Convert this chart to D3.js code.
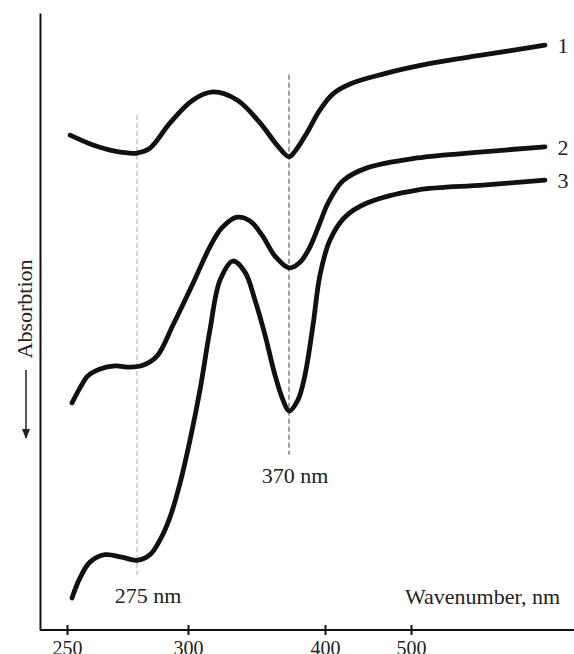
<!DOCTYPE html>
<html lang="en">
<head>
    <meta charset="UTF-8">
    <script src="https://d3js.org/d3.v7.min.js"></script>
    <title>Absorption spectra</title>
    <style>
        body {
            margin: 0;
            background: #fff;
        }
        svg {
            font-family: "Liberation Serif", "Times New Roman", serif;
        }
        .curve {
            fill: none;
            stroke: #111;
            stroke-width: 4.8;
            stroke-linecap: round;
            stroke-linejoin: round;
        }
        .label {
            font-size: 22px;
            fill: #222;
        }
    </style>
</head>
<body>
    <div id="chart"></div>

    <script>
        const width = 574;
        const height = 654;

        // wavelengths (nm) of the tick labels and the marked bands
        const tickValues = [250, 300, 400, 500];
        const markers = [275, 370];
        const markerTop = [16.5, 10.0];    // top of each dashed line (absorption units)
        const markerBottom = [91.1, 71.6];

        // traces: wavelength (nm) and absorption (arbitrary units, grows downward)
        const curve1 = [
            [251.1, 19.8], [259.3, 21.4], [267.1, 22.4], [275, 22.7], [281.4, 21.9], [291.2, 17.8],
            [303.5, 14.1], [317.3, 12.8], [334, 14.1], [349.9, 17.8], [361.7, 21.4], [370, 23.3],
            [375.8, 22.2], [385, 19.4], [395.8, 15.7], [409.3, 13.1], [429.1, 11.5], [467.4, 9.9],
            [525.6, 8.1], [583.7, 6.8], [655.8, 5.2]
        ];
        const curve2 = [
            [251.8, 63.2], [254.6, 60.8], [257.5, 58.8], [261.8, 57.7], [267.1, 57.2], [272.5, 57.4],
            [277.9, 57.1], [284.8, 55.6], [292.6, 50.6], [303.5, 43.8], [315.2, 37.9], [323.6, 34.8],
            [334, 33.1], [343, 33.7], [351.3, 36.0], [360.3, 39.4], [370, 41.3], [379.2, 40.4],
            [387.5, 37.9], [395.8, 34.0], [403.5, 30.8], [420.9, 27.2], [448.8, 25.1], [507, 23.5],
            [583.7, 22.5], [655.8, 21.7]
        ];
        const curve3 = [
            [251.8, 94.8], [254.6, 91.6], [258.2, 89.0], [263.6, 87.8], [269.6, 88.2], [275, 88.7],
            [281.4, 87.8], [286.3, 85.4], [291.2, 81.7], [296.1, 76.2], [301.4, 69.2], [308.3, 61.1],
            [315.2, 51.4], [322.2, 43.3], [331.2, 40.2], [339.5, 42.0], [346.4, 46.5], [353.4, 52.2],
            [360.3, 58.7], [365.8, 62.7], [370, 64.5], [377.5, 62.7], [383.3, 58.7], [390, 50.6],
            [395.8, 42.5], [405.8, 36.8], [423, 33.1], [448.8, 30.8], [507, 28.7], [583.7, 27.9],
            [655.8, 27.1]
        ];
        const curves = [curve1, curve2, curve3];
        const curveNames = ["1", "2", "3"];

        const svg = d3.select("#chart")
            .append("svg")
            .attr("width", width)
            .attr("height", height);

        // the printed axis is not linear in nm, so the scale is piecewise
        const x = d3.scaleLinear()
            .domain([250, 275, 300, 370, 400, 500])
            .range([67, 137, 188, 289, 325, 411]);

        const y = d3.scaleLinear()
            .domain([0, 100])
            .range([13, 630]);

        // y axis: a bare line
        svg.append("g")
            .attr("transform", "translate(40,0)")
            .call(d3.axisLeft(y).tickValues([]).tickSizeOuter(0))
            .select(".domain")
            .attr("stroke", "#111")
            .attr("stroke-width", 2);

        // x axis line across the whole width
        svg.append("line")
            .attr("x1", 40).attr("x2", width)
            .attr("y1", y(100)).attr("y2", y(100))
            .attr("stroke", "#111")
            .attr("stroke-width", 2);

        const xAxis = svg.append("g")
            .attr("transform", `translate(0,${y(100)})`)
            .call(d3.axisBottom(x).tickValues(tickValues).tickSize(5).tickPadding(6));
        xAxis.select(".domain").remove();
        xAxis.selectAll(".tick line")
            .attr("y1", -5)
            .attr("stroke", "#111")
            .attr("stroke-width", 2);
        xAxis.selectAll(".tick text")
            .attr("font-family", "Liberation Serif, serif")
            .attr("font-size", 20)
            .attr("fill", "#222")
            .attr("dy", "0.71em");

        // dashed marker lines
        svg.selectAll(".marker")
            .data(markers)
            .join("line")
            .attr("class", "marker")
            .attr("x1", d => x(d)).attr("x2", d => x(d))
            .attr("y1", (d, i) => y(markerTop[i]))
            .attr("y2", (d, i) => y(markerBottom[i]))
            .attr("stroke", (d, i) => i === 0 ? "#aaa" : "#444")
            .attr("stroke-width", 1)
            .attr("stroke-dasharray", "5,3");

        const line = d3.line()
            .x(d => x(d[0]))
            .y(d => y(d[1]))
            .curve(d3.curveCatmullRom.alpha(0.5));

        svg.selectAll(".curve")
            .data(curves)
            .join("path")
            .attr("class", "curve")
            .attr("d", line);

        // curve numbers at the right ends
        svg.selectAll(".curve-name")
            .data(curves)
            .join("text")
            .attr("class", "label")
            .attr("x", 563)
            .attr("y", d => y(d[d.length - 1][1]))
            .attr("dy", "0.35em")
            .attr("text-anchor", "middle")
            .text((d, i) => curveNames[i]);

        svg.append("text")
            .attr("class", "label")
            .attr("x", x(370) + 6)
            .attr("y", 483)
            .attr("text-anchor", "middle")
            .text("370 nm");

        svg.append("text")
            .attr("class", "label")
            .attr("x", x(275) + 11)
            .attr("y", 603)
            .attr("text-anchor", "middle")
            .text("275 nm");

        svg.append("text")
            .attr("class", "label")
            .attr("x", 560)
            .attr("y", 604)
            .attr("text-anchor", "end")
            .text("Wavenumber, nm");

        // y label with the downward arrow
        svg.append("defs").append("marker")
            .attr("id", "arrow")
            .attr("viewBox", "0 0 10 10")
            .attr("refX", 9).attr("refY", 5)
            .attr("markerWidth", 7).attr("markerHeight", 7)
            .attr("orient", "auto")
            .append("path")
            .attr("d", "M0,1 L10,5 L0,9 Z")
            .attr("fill", "#222");

        svg.append("text")
            .attr("class", "label")
            .attr("transform", "translate(32,309) rotate(-90)")
            .attr("text-anchor", "middle")
            .text("Absorbtion");

        svg.append("line")
            .attr("x1", 26).attr("x2", 26)
            .attr("y1", 370).attr("y2", 438)
            .attr("stroke", "#222")
            .attr("stroke-width", 1.5)
            .attr("marker-end", "url(#arrow)");
    </script>
</body>
</html>
